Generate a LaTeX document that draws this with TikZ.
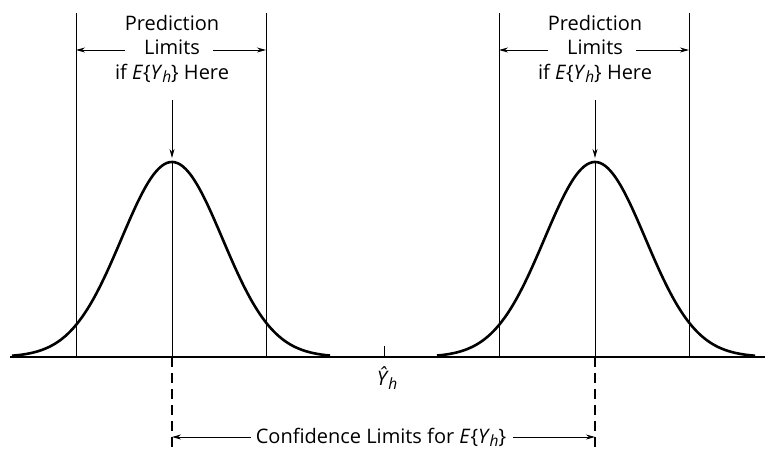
\documentclass[tikz,border=0pt]{standalone}
\usepackage{fontspec}
\setmainfont{Open Sans}
\usetikzlibrary{arrows.meta}
\newcommand{\subh}{\raisebox{-0.3ex}{\fontsize{15.5}{15.5}\selectfont\textit{h}}}
\newcommand{\EYh}{\textit{E}\{\textit{Y}\kern-0.02em\subh\}}
\tikzset{
  thinline/.style={line width=0.9pt},
  axisline/.style={line width=1.3pt},
  bell/.style={line width=2.6pt},
  arr/.style={line width=0.9pt,-{Stealth[length=9pt,width=5pt]}},
  dashline/.style={line width=1.8pt,dash pattern=on 10pt off 6pt},
  lbl/.style={font=\fontsize{20}{24.5}\selectfont,align=center,inner sep=0pt},
}
\begin{document}
\begin{tikzpicture}[x=1pt,y=-1pt]
\useasboundingbox (0,0) rectangle (765,452);
% axis
\coordinate (axL) at (10,357);
\coordinate (axR) at (765,357);
\draw[axisline] (axL) -- (axR);
% bell curves
\draw[bell] plot[domain=12:330,samples=120,smooth] (\x,{357-195*exp(-((\x-172)/50.5)^2/2)});
\draw[bell] plot[domain=437:755,samples=120,smooth] (\x,{357-195*exp(-((\x-595)/50.5)^2/2)});
\foreach \n/\c in {L/172, R/595}{
  \coordinate (pl\n top) at ({\c-96},13);
  \coordinate (pl\n bot) at ({\c-96},357);
  \coordinate (pr\n top) at ({\c+94},13);
  \coordinate (pr\n bot) at ({\c+94},357);
  \coordinate (peak\n) at (\c,162);
  \coordinate (base\n) at (\c,357);
  \coordinate (dash\n) at (\c,452);
  \coordinate (arrtop\n) at (\c,100);
  \coordinate (arrtip\n) at (\c,158);
  \draw[thinline] (pl\n top) -- (pl\n bot);
  \draw[thinline] (pr\n top) -- (pr\n bot);
  \draw[thinline] (peak\n) -- (base\n);
  \draw[arr] (arrtop\n) -- (arrtip\n);
  \draw[dashline] (base\n) -- (dash\n);
  \node[lbl] (pred\n) at (\c,49) {Prediction\\Limits\\if \EYh{} Here};
  \coordinate (al\n) at ({\c-47},50);
  \coordinate (ar\n) at ({\c+41},50);
  \coordinate (alt\n) at ({\c-96},50);
  \coordinate (art\n) at ({\c+94},50);
  \draw[arr] (al\n) -- (alt\n);
  \draw[arr] (ar\n) -- (art\n);
}
% Y hat
\coordinate (tickT) at (384,346);
\coordinate (tickB) at (384,357);
\draw[thinline] (tickT) -- (tickB);
\node[lbl] (yhat) at (387,378) {\textit{Ŷ}\kern-0.02em\subh};
% confidence
\node[lbl] (conf) at (381,437) {Confidence Limits for \EYh};
\coordinate (cl) at (251,437);
\coordinate (clt) at (172,437);
\coordinate (cr) at (513,437);
\coordinate (crt) at (595,437);
\draw[arr] (cl) -- (clt);
\draw[arr] (cr) -- (crt);
\end{tikzpicture}
\end{document}
